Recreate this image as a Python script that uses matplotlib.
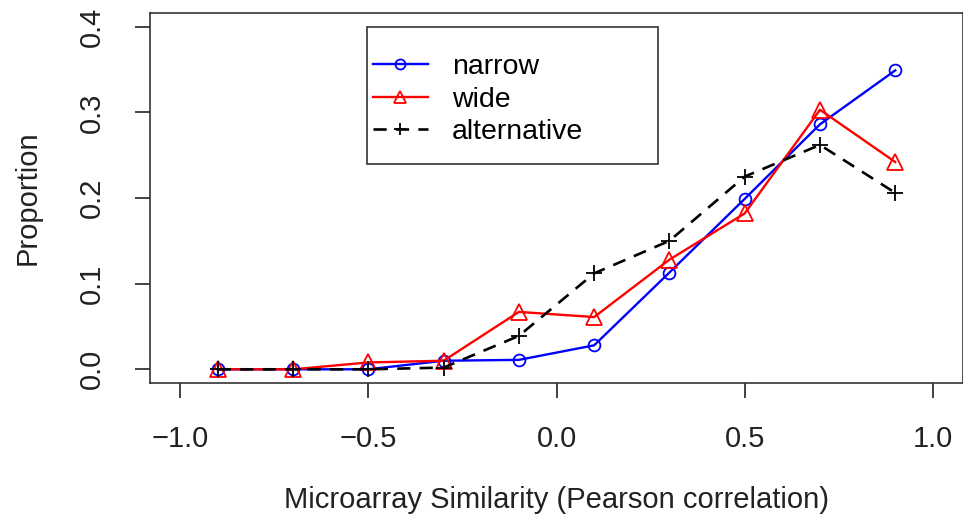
import matplotlib
matplotlib.use("Agg")
import matplotlib.pyplot as plt
from matplotlib.patches import Rectangle

plt.rcParams['font.family'] = ['Liberation Sans', 'DejaVu Sans']

# bin centres of the correlation histogram
x = [-0.9, -0.7, -0.5, -0.3, -0.1, 0.1, 0.3, 0.5, 0.7, 0.9]
narrow = [0.0, 0.0, 0.0, 0.010, 0.011, 0.028, 0.113, 0.199, 0.286, 0.349]
wide = [0.0, 0.0, 0.008, 0.010, 0.067, 0.061, 0.128, 0.182, 0.303, 0.242]
alternative = [0.0, 0.0, 0.0, 0.002, 0.039, 0.112, 0.150, 0.225, 0.262, 0.206]

xticks = [-1.0, -0.5, 0.0, 0.5, 1.0]
yticks = [0.0, 0.1, 0.2, 0.3, 0.4]

fig = plt.figure(figsize=(9.63, 5.21), dpi=100)
ax = fig.add_axes([150 / 963, 138 / 521, 813 / 963, 370 / 521])

ax.plot(x, narrow, color="blue", lw=1.7, marker="o", ms=8.5,
        mfc="none", mew=1.3, label="narrow")
ax.plot(x, wide, color="red", lw=1.7, marker="^", ms=11,
        mfc="none", mew=1.3, label="wide")
ax.plot(x, alternative, color="black", lw=1.9, ls=(0, (5, 3.5)),
        marker="+", ms=11, mew=1.3, label="alternative")

ax.set_xlim(-1.08, 1.08)
ax.set_ylim(-0.016, 0.416)
ax.set_xticks(xticks)
ax.set_xticklabels([f"{v:.1f}".replace("-", "\u2212") for v in xticks])
ax.set_yticks(yticks)
ax.set_yticklabels([f"{v:.1f}" for v in yticks], rotation=90, va="center")
ax.tick_params(axis="both", direction="out", length=11, width=1.2,
               labelsize=21, pad=19, colors="#222222")
ax.tick_params(axis="y", pad=21)

for s in ax.spines.values():
    s.set_linewidth(1.2)
    s.set_color("#333333")

ax.set_xlabel("Microarray Similarity (Pearson correlation)", fontsize=21,
              labelpad=24, color="#222222")
ax.set_ylabel("Proportion", fontsize=21, labelpad=26, color="#222222")

# legend box drawn separately, entries placed inside it
ax.add_patch(Rectangle((0.267, 0.592), 0.358, 0.370, transform=ax.transAxes,
                       fill=True, facecolor="white", edgecolor="#333333",
                       lw=1.2, zorder=5))
leg = ax.legend(loc="upper left", bbox_to_anchor=(0.274, 0.89),
                fontsize=20.5, frameon=False, borderpad=0,
                labelspacing=0.24, handlelength=1.93, markerscale=0.85,
                handletextpad=0.85, borderaxespad=0)
leg.set_zorder(6)

fig.savefig("out.png", dpi=100)
